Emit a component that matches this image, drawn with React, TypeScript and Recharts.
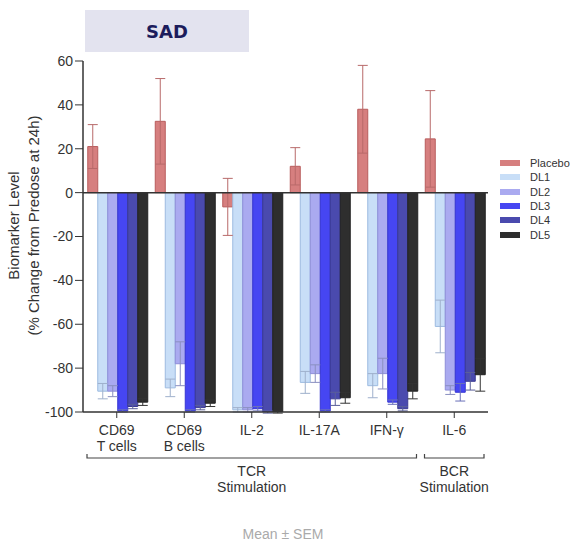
import { BarChart, Bar, XAxis, YAxis, ErrorBar, ReferenceLine } from 'recharts'

const categories = ['CD69\nT cells', 'CD69\nB cells', 'IL-2', 'IL-17A', 'IFN-γ', 'IL-6']

const placebo = [21, 32.5, -6.5, 12, 38, 24.5]
const placeboSem = [10, 19.5, 13, 8.5, 20, 22]
const dl1 = [-90.5, -89, -99, -86.5, -88, -61]
const dl1Sem = [3.5, 4, 1, 5, 5.5, 12]
const dl2 = [-90.5, -78, -99, -82.5, -82.5, -90]
const dl2Sem = [2.5, 10, 1, 4, 7, 2]
const dl3 = [-99.5, -99.5, -98.5, -99.5, -95.5, -91]
const dl3Sem = [0.5, 0.5, 1, 0.5, 1, 4]
const dl4 = [-97.5, -98, -100, -94, -98.5, -86]
const dl4Sem = [1, 1, 0.5, 3, 1, 4]
const dl5 = [-95.5, -96, -100, -93.5, -90.5, -83]
const dl5Sem = [1.5, 1.5, 0.5, 2.5, 3.5, 7.5]

const yTicks = [-100, -80, -60, -40, -20, 0, 20, 40, 60]

const stimulationGroups = [
  { label: 'TCR', first: 0, last: 4 },
  { label: 'BCR', first: 5, last: 5 },
]

const series = [
  { key: 'placebo', name: 'Placebo', values: placebo, sem: placeboSem, fill: '#d67f7f', stroke: '#b85c5c', err: '#b86a6a' },
  { key: 'dl1', name: 'DL1', values: dl1, sem: dl1Sem, fill: '#c8def7', stroke: '#9dbbe0', err: '#9fb0cc' },
  { key: 'dl2', name: 'DL2', values: dl2, sem: dl2Sem, fill: '#aaaaf0', stroke: '#8e8ed8', err: '#8a8fc0' },
  { key: 'dl3', name: 'DL3', values: dl3, sem: dl3Sem, fill: '#4646f2', stroke: '#3636d2', err: '#6a70b8' },
  { key: 'dl4', name: 'DL4', values: dl4, sem: dl4Sem, fill: '#4a4aae', stroke: '#3a3a92', err: '#5a5f99' },
  { key: 'dl5', name: 'DL5', values: dl5, sem: dl5Sem, fill: '#2e2e2e', stroke: '#222222', err: '#333333' },
]

const data = categories.map((name, i) => {
  const row: Record<string, any> = { name }
  series.forEach(s => {
    row[s.key] = s.values[i]
    row[s.key + 'Sem'] = s.sem[i]
  })
  return row
})

const FONT = '"Liberation Sans", Arial, sans-serif'

function CategoryTick(props: any) {
  const { x, y, payload, index } = props
  const half = payload.offset ?? 33.75
  const lines = String(payload.value).split('\n')
  const group = stimulationGroups.find(g => g.first === index)
  let bracket = null
  if (group) {
    const x1 = x - half + 4
    const x2 = x + (group.last - group.first) * 2 * half + half - 4
    const by = y + 38
    const cx = (x1 + x2) / 2
    bracket = (
      <g>
        <path d={`M${x1},${by - 4}V${by}H${x2}V${by - 4}`} fill="none" stroke="#444" strokeWidth={1.2} />
        <text x={cx} y={by + 18} textAnchor="middle" fontSize={14} fill="#333" fontFamily={FONT}>{group.label}</text>
        <text x={cx} y={by + 34} textAnchor="middle" fontSize={14} fill="#333" fontFamily={FONT}>Stimulation</text>
      </g>
    )
  }
  return (
    <g>
      <text x={x} y={y} textAnchor="middle" fontSize={14} fill="#333" fontFamily={FONT}>
        {lines.map((l, k) => (
          <tspan key={k} x={x} dy={k === 0 ? 15 : 16}>{l}</tspan>
        ))}
      </text>
      {bracket}
    </g>
  )
}

function YLabel(props: any) {
  const { viewBox } = props
  const cy = viewBox.y + viewBox.height / 2 - 11
  return (
    <g fontSize={15} fill="#333" fontFamily={FONT} textAnchor="middle">
      <text x={19} y={cy} transform={`rotate(-90, 19, ${cy})`}>Biomarker Level</text>
      <text x={39} y={cy} transform={`rotate(-90, 39, ${cy})`}>(% Change from Predose at 24h)</text>
    </g>
  )
}

export default function App() {
  return (
    <div style={{ position: 'absolute', left: 0, top: 0, width: 571, height: 542, background: '#fff' }}>
      <div
        style={{
          position: 'absolute', left: 85, top: 10, width: 164, height: 42, background: '#e3e3ef',
          display: 'flex', alignItems: 'center', justifyContent: 'center',
          fontFamily: '"DejaVu Sans", Verdana, sans-serif', fontWeight: 'bold', fontSize: 18, color: '#1c1c5c',
        }}
      >
        SAD
      </div>
      <BarChart
        width={571}
        height={542}
        data={data}
        margin={{ top: 61, right: 83, left: 0, bottom: 30 }}
        barCategoryGap={4.75}
        barGap={0}
      >
        <YAxis
          domain={[-100, 60]}
          ticks={yTicks}
          width={83}
          tickSize={8}
          tickMargin={2}
          interval={0}
          allowDataOverflow
          axisLine={{ stroke: '#333', strokeWidth: 1.5 }}
          tickLine={{ stroke: '#333' }}
          tick={{ fontSize: 14, fill: '#333', fontFamily: FONT }}
          label={{ content: <YLabel /> }}
        />
        <XAxis
          dataKey="name"
          height={100}
          interval={0}
          tickSize={6}
          tickMargin={2}
          axisLine={{ stroke: '#333', strokeWidth: 1.5 }}
          tickLine={{ stroke: '#333' }}
          tick={<CategoryTick />}
        />
        {series.map(s => (
          <Bar
            key={s.key}
            dataKey={s.key}
            name={s.name}
            fill={s.fill}
            stroke={s.stroke}
            strokeWidth={1}
            isAnimationActive={false}
          >
            <ErrorBar dataKey={s.key + 'Sem'} width={5} stroke={s.err} strokeWidth={1} direction="y" />
          </Bar>
        ))}
        <ReferenceLine y={0} stroke="#333" strokeWidth={1.5} />
      </BarChart>
      <div style={{ position: 'absolute', left: 500, top: 156, fontFamily: FONT, fontSize: 11, color: '#333' }}>
        {series.map(s => (
          <div key={s.key} style={{ display: 'flex', alignItems: 'center', height: 14.3 }}>
            <span style={{ display: 'inline-block', width: 20, height: 6, background: s.fill, marginRight: 10 }} />
            {s.name}
          </div>
        ))}
      </div>
      <div
        style={{
          position: 'absolute', left: 0, width: 566, top: 526, textAlign: 'center',
          fontFamily: FONT, fontSize: 14, color: '#aaa',
        }}
      >
        Mean ± SEM
      </div>
    </div>
  )
}
